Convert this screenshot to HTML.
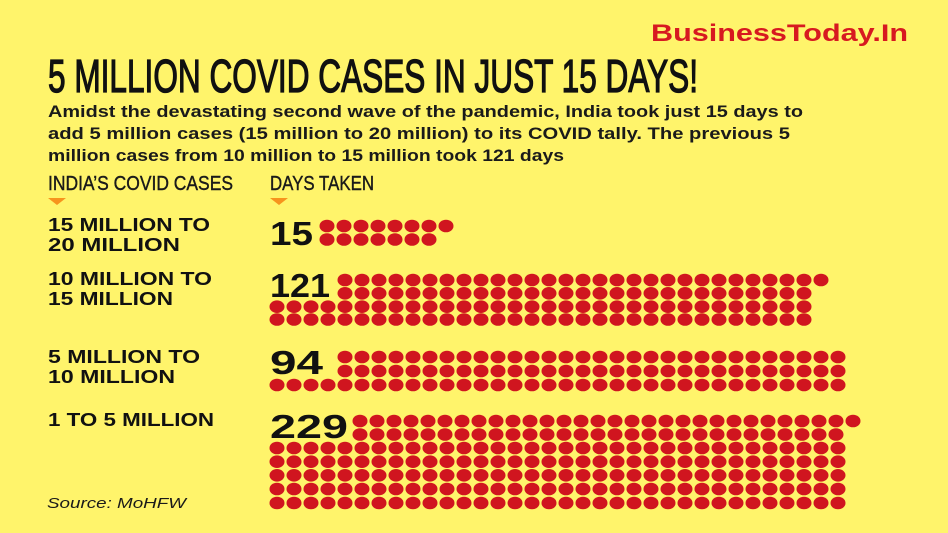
<!DOCTYPE html>
<html><head><meta charset="utf-8"><style>
html,body{margin:0;padding:0;background:#fff46b;}
svg{display:block}
.c{font-family:"Liberation Sans Narrow","Liberation Sans",sans-serif;}
.s{font-family:"Liberation Sans",sans-serif;}
</style></head><body>
<svg id="v" width="948" height="533" viewBox="0 0 948 533" xmlns="http://www.w3.org/2000/svg">
<rect width="948" height="533" fill="#fff46b"/>
<text x="651" y="41" class="s" font-size="24" font-weight="bold" fill="#d71920" textLength="257" lengthAdjust="spacingAndGlyphs">BusinessToday.In</text>
<text x="48" y="92" class="c" font-size="46" fill="#111" stroke="#111" stroke-width="1.3" textLength="650" lengthAdjust="spacingAndGlyphs">5 MILLION COVID CASES IN JUST 15 DAYS!</text>
<g class="s" font-size="17" font-weight="bold" fill="#1a1a1a">
<text x="48" y="117" textLength="755" lengthAdjust="spacingAndGlyphs">Amidst the devastating second wave of the pandemic, India took just 15 days to</text>
<text x="48" y="139" textLength="742" lengthAdjust="spacingAndGlyphs">add 5 million cases (15 million to 20 million) to its COVID tally. The previous 5</text>
<text x="48" y="161" textLength="516" lengthAdjust="spacingAndGlyphs">million cases from 10 million to 15 million took 121 days</text>
</g>
<g class="c" font-size="20" fill="#1a1a1a" stroke="#1a1a1a" stroke-width="0.4">
<text x="48" y="190" textLength="185" lengthAdjust="spacingAndGlyphs">INDIA’S COVID CASES</text>
<text x="270" y="190" textLength="104" lengthAdjust="spacingAndGlyphs">DAYS TAKEN</text>
</g>
<polygon points="48,198 66,198 57,205" fill="#f7941d"/>
<polygon points="270,198 288,198 279,205" fill="#f7941d"/>
<g class="s" font-size="18" font-weight="bold" fill="#111">
<text x="48" y="231" textLength="162" lengthAdjust="spacingAndGlyphs">15 MILLION TO</text>
<text x="48" y="251" textLength="132" lengthAdjust="spacingAndGlyphs">20 MILLION</text>
<text x="48" y="285" textLength="164" lengthAdjust="spacingAndGlyphs">10 MILLION TO</text>
<text x="48" y="305" textLength="125" lengthAdjust="spacingAndGlyphs">15 MILLION</text>
<text x="48" y="363" textLength="152" lengthAdjust="spacingAndGlyphs">5 MILLION TO</text>
<text x="48" y="383" textLength="127" lengthAdjust="spacingAndGlyphs">10 MILLION</text>
<text x="48" y="426" textLength="166" lengthAdjust="spacingAndGlyphs">1 TO 5 MILLION</text>
</g>
<g class="s" font-size="33" font-weight="bold" fill="#111">
<text x="270" y="245" textLength="43" lengthAdjust="spacingAndGlyphs">15</text>
<text x="270" y="297" textLength="60" lengthAdjust="spacingAndGlyphs">121</text>
<text x="270" y="374" textLength="53" lengthAdjust="spacingAndGlyphs">94</text>
<text x="270" y="438" textLength="78" lengthAdjust="spacingAndGlyphs">229</text>
</g>
<text x="47" y="508" class="s" font-size="15" font-style="italic" fill="#1a1a1a" textLength="139" lengthAdjust="spacingAndGlyphs">Source: MoHFW</text>
<g id="d" fill="#d0151f"></g>
</svg>
<script>
var P=17.0;
var rows=[
[327,226,8],[327,239.5,7],
[345,280,29],[345,293.3,28],[277,306.7,32],[277,319.5,32],
[345,357,30],[345,371,30],[277,385,34],
[360,421,30],[360,434.5,29],[277,448,34],[277,461.7,34],[277,475.3,34],[277,489,34],[277,503,34]
];
var g=document.getElementById('d'),ns='http://www.w3.org/2000/svg';
rows.forEach(function(r){for(var i=0;i<r[2];i++){var c=document.createElementNS(ns,'ellipse');c.setAttribute('cx',r[0]+i*P);c.setAttribute('cy',r[1]);c.setAttribute('rx',7.5);c.setAttribute('ry',6.3);g.appendChild(c);}});
</script>
</body></html>
